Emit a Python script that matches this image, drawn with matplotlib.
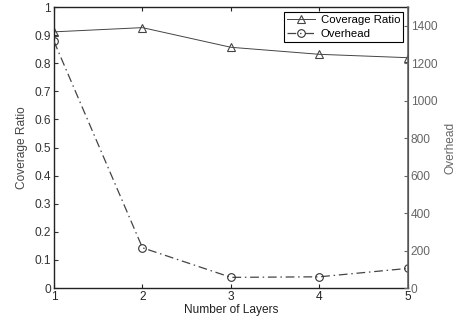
import numpy as np
import matplotlib
matplotlib.use("Agg")
import matplotlib.pyplot as plt

# datos
layers = [1, 2, 3, 4, 5]
coverage = [0.912, 0.927, 0.857, 0.832, 0.820]
overhead = [1318, 215, 57, 60, 105]

plt.rcParams['font.family'] = ['Liberation Sans', 'DejaVu Sans']
plt.rcParams['font.size'] = 8.6

fig = plt.figure(figsize=(4.61, 3.24), dpi=100)
ax = fig.add_axes([0.117, 0.111, 0.768, 0.867])
ax2 = ax.twinx()

l1, = ax.plot(layers, coverage, '-', color='#444444', lw=0.7, marker='^',
              ms=5.5, mfc='none', mec='#444444', mew=0.8, label='Coverage Ratio')
l2, = ax2.plot(layers, overhead, color='#444444', lw=0.9, marker='o',
               ms=5.5, mfc='none', mec='#333333', mew=0.8, label='Overhead',
               dashes=(7, 3, 1.2, 3))

ax.set_xlim(1, 5)
ax.set_ylim(0, 1)
ax.set_xticks(layers)
ax.set_yticks(np.arange(0, 1.01, 0.1))
ax.set_yticklabels(['0', '0.1', '0.2', '0.3', '0.4', '0.5', '0.6', '0.7', '0.8', '0.9', '1'])
ax2.set_ylim(0, 1500)
ax2.set_yticks(np.arange(0, 1401, 200))

ax.tick_params(axis='x', direction='in', top=True, length=3, pad=2, colors='#222222')
ax.tick_params(axis='y', direction='in', length=3, pad=2, colors='#333333')
ax2.tick_params(axis='y', direction='in', length=3, pad=2, colors='#666666')

for s in ['left', 'bottom', 'top']:
    ax.spines[s].set_color('#222222')
    ax.spines[s].set_linewidth(1.0)
ax2.spines['right'].set_color('#666666')
ax2.spines['right'].set_linewidth(1.2)
for s in ['left', 'bottom', 'top']:
    ax2.spines[s].set_visible(False)

ax.set_xlabel('Number of Layers', color='#222222', labelpad=1)
ax.set_ylabel('Coverage Ratio', color='#444444', labelpad=5)
ax2.set_ylabel('Overhead', color='#666666', labelpad=5)

leg = ax2.legend(handles=[l1, l2], loc='upper right', fancybox=False,
                 edgecolor='black', framealpha=1, borderaxespad=0.4,
                 handlelength=2.4, borderpad=0.3, labelspacing=0.3,
                 handletextpad=0.5, fontsize=8.2)
leg.get_frame().set_linewidth(0.8)

fig.savefig('out.png', dpi=100)
